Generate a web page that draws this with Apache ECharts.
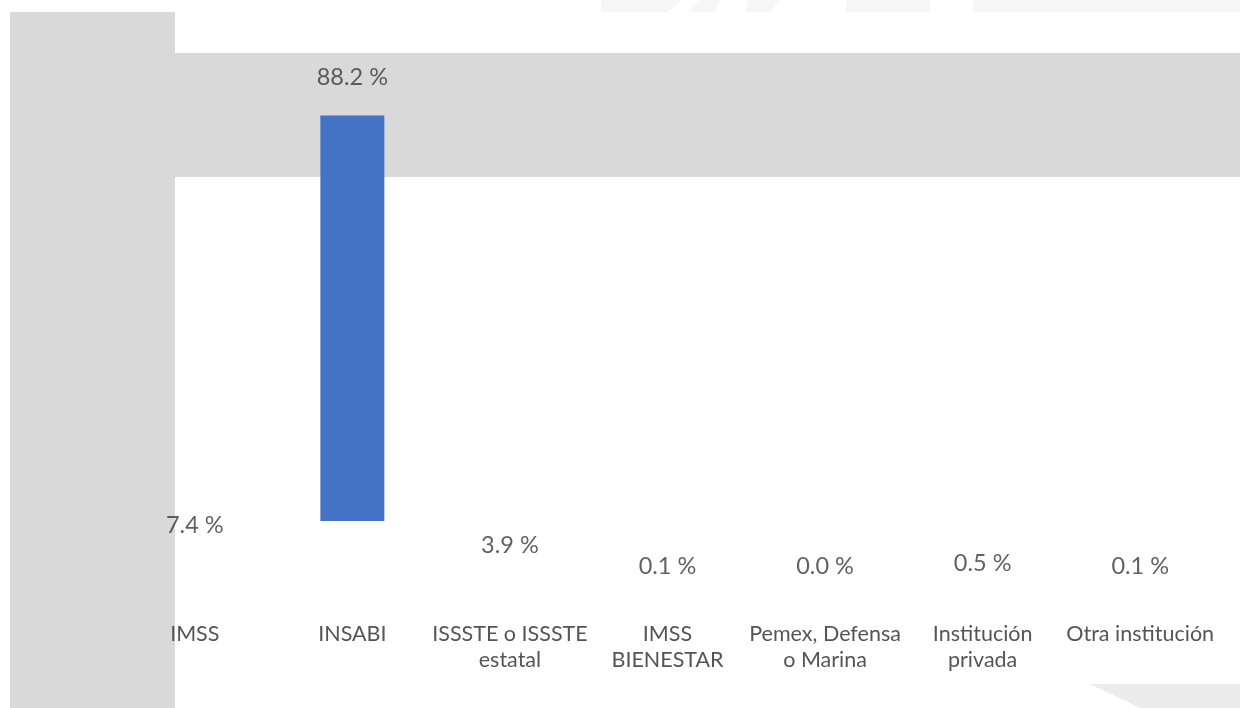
<!DOCTYPE html>
<html>
<head>
<meta charset="utf-8">
<script src="https://cdn.jsdelivr.net/npm/echarts@6/dist/echarts.min.js"></script>
<style>
  html, body { margin: 0; padding: 0; background: #ffffff; }
  #chart { width: 1240px; height: 708px; }
</style>
</head>
<body>
<div id="chart"></div>
<script>
// ---- data ----
var categories = [
  'IMSS',
  'INSABI',
  'ISSSTE o ISSSTE\nestatal',
  'IMSS\nBIENESTAR',
  'Pemex, Defensa\no Marina',
  'Institución\nprivada',
  'Otra institución'
];
var percentages = [7.4, 88.2, 3.9, 0.1, 0.0, 0.5, 0.1];

// ---- chart ----
var FONT = 'Lato, "Open Sans", "Noto Sans", sans-serif';
var chart = echarts.init(document.getElementById('chart'), null, { renderer: 'canvas' });

var option = {
  backgroundColor: '#ffffff',
  animation: false,
  graphic: [
    // decorative slide background
    { type: 'rect', z: 0, silent: true, shape: { x: 10, y: 12, width: 165, height: 696 }, style: { fill: '#d9d9d9' } },
    { type: 'rect', z: 0, silent: true, shape: { x: 175, y: 53, width: 1065, height: 124 }, style: { fill: '#d9d9d9' } },
    { type: 'polygon', z: 0, silent: true, shape: { points: [[601, 0], [682, 0], [668, 12], [601, 12]] }, style: { fill: '#f6f6f6' } },
    { type: 'polygon', z: 0, silent: true, shape: { points: [[700, 0], [720, 0], [715, 12], [687, 12]] }, style: { fill: '#f6f6f6' } },
    { type: 'polygon', z: 0, silent: true, shape: { points: [[748, 0], [780, 0], [770, 12], [745, 12]] }, style: { fill: '#f6f6f6' } },
    { type: 'polygon', z: 0, silent: true, shape: { points: [[847, 0], [930, 0], [930, 12], [845, 12]] }, style: { fill: '#f6f6f6' } },
    { type: 'rect', z: 0, silent: true, shape: { x: 973, y: 0, width: 267, height: 12 }, style: { fill: '#f6f6f6' } },
    { type: 'polygon', z: 0, silent: true, shape: { points: [[1090, 684], [1240, 684], [1240, 708], [1140, 708]] }, style: { fill: '#ececec' } }
  ],
  grid: { left: 116, right: 21, top: 50, bottom: 187, containLabel: false },
  xAxis: {
    type: 'category',
    data: categories,
    axisLine: { show: false },
    axisTick: { show: false },
    splitLine: { show: false },
    axisLabel: {
      interval: 0,
      margin: 100,
      color: '#555555',
      fontFamily: FONT,
      fontSize: 21.5,
      lineHeight: 26,
      align: 'center'
    }
  },
  yAxis: {
    type: 'value',
    min: 15,
    max: 100,
    show: false,
    splitLine: { show: false }
  },
  series: [
    {
      name: 'Porcentaje',
      type: 'bar',
      data: percentages,
      barWidth: 64,
      clip: true,
      itemStyle: { color: '#4472c4' },
      label: { show: false }
    },
    {
      name: 'Etiquetas',
      type: 'scatter',
      data: percentages,
      clip: false,
      symbol: 'circle',
      symbolSize: 1,
      itemStyle: { color: 'rgba(0,0,0,0)' },
      label: {
        show: true,
        position: 'top',
        distance: 25,
        color: '#3a3a3a',
        fontFamily: FONT,
        fontSize: 23.5,
        formatter: function (p) { return p.value.toFixed(1) + ' %'; }
      },
      emphasis: { disabled: true },
      silent: true
    }
  ]
};
chart.setOption(option);
</script>
</body>
</html>
